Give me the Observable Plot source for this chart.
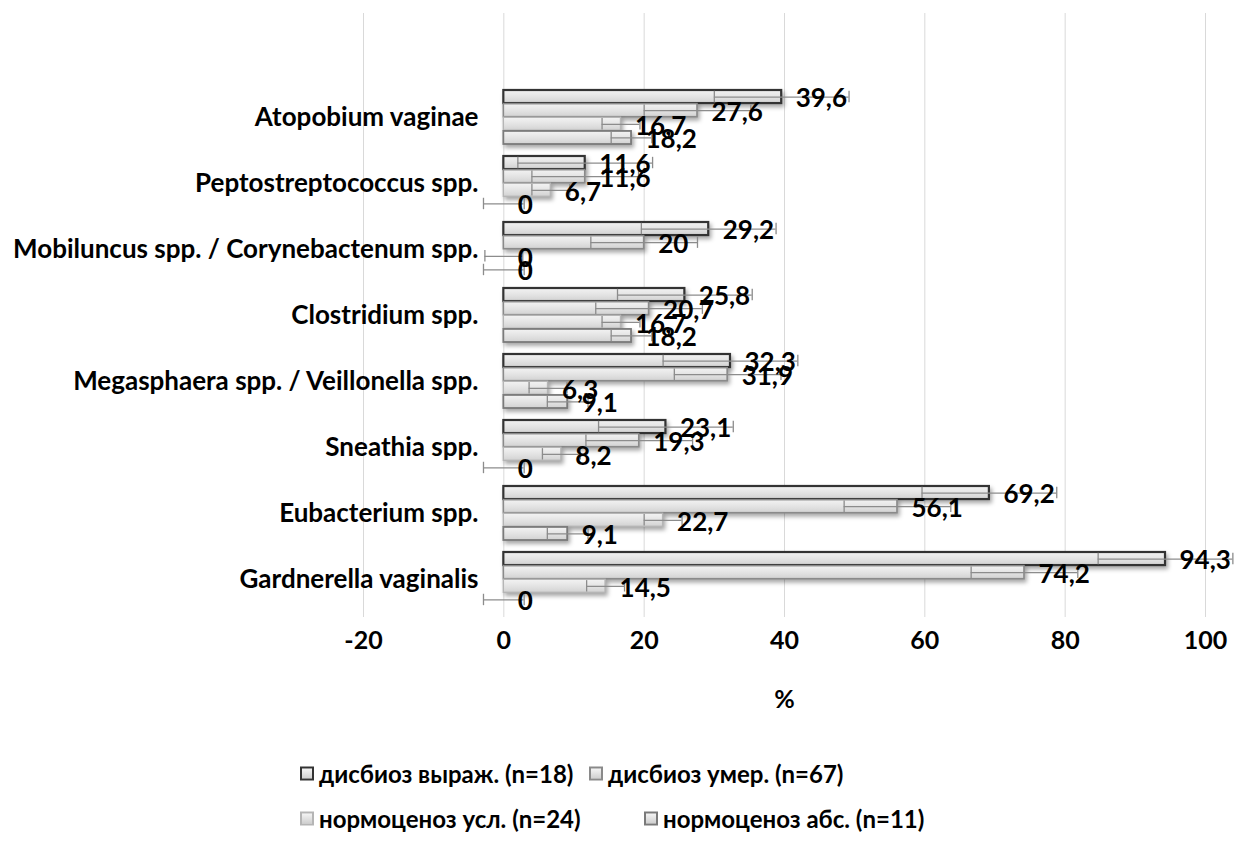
<!DOCTYPE html>
<html>
<head>
<meta charset="utf-8">
<script src="https://cdn.jsdelivr.net/npm/d3@7"></script>
<script src="https://cdn.jsdelivr.net/npm/@observablehq/plot@0.6"></script>
<style>
  html, body { margin: 0; padding: 0; background: #fff; }
  #wrap { position: relative; width: 1234px; height: 847px; font-family: Lato, "Open Sans", sans-serif; }
  #legend { position: absolute; left: 0; top: 0; width: 1234px; height: 847px; pointer-events: none; }
  .item { position: absolute; display: flex; align-items: center; font-weight: 700; font-size: 24px; color: #000; white-space: nowrap; transform: translateY(-50%); }
  .sw { width: 14px; height: 14px; margin-right: 5px; background: linear-gradient(#f4f4f4, #cfcfcf); box-sizing: border-box; border: 2px solid #888; }
</style>
</head>
<body>
<div id="wrap"><div id="chart"></div><div id="legend"></div></div>
<script>
const categories = [
  "Atopobium vaginae",
  "Peptostreptococcus spp.",
  "Mobiluncus spp. / Corynebactenum spp.",
  "Clostridium spp.",
  "Megasphaera spp. / Veillonella spp.",
  "Sneathia spp.",
  "Eubacterium spp.",
  "Gardnerella vaginalis"
];
const series = ["дисбиоз выраж. (n=18)", "дисбиоз умер. (n=67)", "нормоценоз усл. (n=24)", "нормоценоз абс. (n=11)"];
const vyrazh = [39.6, 11.6, 29.2, 25.8, 32.3, 23.1, 69.2, 94.3];
const umer   = [27.6, 11.6, 20, 20.7, 31.9, 19.3, 56.1, 74.2];
const usl    = [16.7, 6.7, 0, 16.7, 6.3, 8.2, 22.7, 14.5];
const abs    = [18.2, 0, 0, 18.2, 9.1, 0, 9.1, 0];
const errors = [9.6, 7.6, 2.7, 2.9];
const xTicks = [-20, 0, 20, 40, 60, 80, 100];

const seriesValues = [vyrazh, umer, usl, abs];
const strokes = ["#333", "#8a8a8a", "#b5b5b5", "#7a7a7a"];
const strokeWidths = [2.2, 1.6, 1.4, 1.8];

const data = [];
series.forEach((s, si) => categories.forEach((c, ci) => data.push({series: s, si, category: c, value: seriesValues[si][ci], err: errors[si]})));

const W = 1234, H = 730, mTop = 13, mBottom = H - 617, mLeft = 363, mRight = W - 1205;
const yRange = [80.5, 616];
const pIn = 0.185, pOut = 0.09;
const step = (yRange[1] - yRange[0]) / (categories.length - pIn + 2 * pOut);
const bw = step * (1 - pIn);
const h = bw / series.length;
const cap = 6;
const fmt = v => String(v).replace(".", ",");
const font = "Lato, 'Open Sans', sans-serif";

const marks = [
  Plot.ruleX(xTicks, {stroke: "#d9d9d9", strokeWidth: 1})
];
series.forEach((s, i) => {
  const d = data.filter(r => r.si === i && r.value > 0);
  marks.push(Plot.barX(d, {x: "value", y: "category", insetTop: i * h, insetBottom: (3 - i) * h, fill: "url(#barGrad)", stroke: strokes[i], strokeWidth: strokeWidths[i]}));
});
series.forEach((s, i) => {
  const d = data.filter(r => r.si === i);
  const off = (i - 1.5) * h;
  marks.push(Plot.ruleY(d, {y: "category", x1: r => r.value - r.err, x2: r => r.value + r.err, dy: off, stroke: "#8c8c8c", strokeWidth: 1.3}));
  const ci = i * h + h / 2;
  marks.push(Plot.tickX(d, {x: r => r.value - r.err, y: "category", insetTop: ci - cap, insetBottom: bw - ci - cap, stroke: "#8c8c8c", strokeWidth: 1.3}));
  marks.push(Plot.tickX(d, {x: r => r.value + r.err, y: "category", insetTop: ci - cap, insetBottom: bw - ci - cap, stroke: "#8c8c8c", strokeWidth: 1.3}));
});
series.forEach((s, i) => {
  const d = data.filter(r => r.si === i);
  marks.push(Plot.text(d, {x: "value", y: "category", text: r => fmt(r.value), dy: (i - 1.5) * h + 2, dx: 14, textAnchor: "start", fill: "#000", fontSize: 26, fontWeight: 700}));
});
marks.push(Plot.axisX({ticks: xTicks, tickSize: 0, tickPadding: 14, label: null, fontSize: 25, fontWeight: 700, tickFormat: d => String(d)}));
marks.push(Plot.axisY({tickSize: 0, tickPadding: 0, dx: 115, label: null, fontSize: 26, fontWeight: 700}));
marks.push(Plot.text(["%"], {frameAnchor: "bottom", dy: 90, fontSize: 25, fontWeight: 700, fill: "#000"}));

const chart = Plot.plot({
  width: W, height: H,
  marginTop: mTop, marginBottom: mBottom, marginLeft: mLeft, marginRight: mRight,
  style: {fontFamily: font, color: "#000", background: "#fff", overflow: "visible"},
  x: {domain: [-20, 100]},
  y: {domain: categories, range: yRange, paddingInner: pIn, paddingOuter: pOut},
  marks
});
const defs = document.createElementNS("http://www.w3.org/2000/svg", "defs");
defs.innerHTML = `<linearGradient id="barGrad" x1="0" y1="0" x2="0" y2="1">
  <stop offset="0" stop-color="#f3f3f3"/><stop offset="0.5" stop-color="#e4e4e4"/><stop offset="1" stop-color="#d2d2d2"/></linearGradient>`;
chart.prepend(defs);
chart.querySelectorAll('g[aria-label="bar"]').forEach(g => g.style.filter = "drop-shadow(2px 3px 2px rgba(0,0,0,0.35))");
document.getElementById("chart").appendChild(chart);

const legendPos = [[300, 773], [589, 773], [300, 818], [644, 818]];
const legend = document.getElementById("legend");
series.forEach((s, i) => {
  const it = document.createElement("div");
  it.className = "item";
  it.style.left = legendPos[i][0] + "px";
  it.style.top = legendPos[i][1] + "px";
  const sw = document.createElement("span");
  sw.className = "sw";
  sw.style.borderColor = strokes[i];
  const t = document.createElement("span");
  t.textContent = s;
  it.appendChild(sw); it.appendChild(t);
  legend.appendChild(it);
});
</script>
</body>
</html>
